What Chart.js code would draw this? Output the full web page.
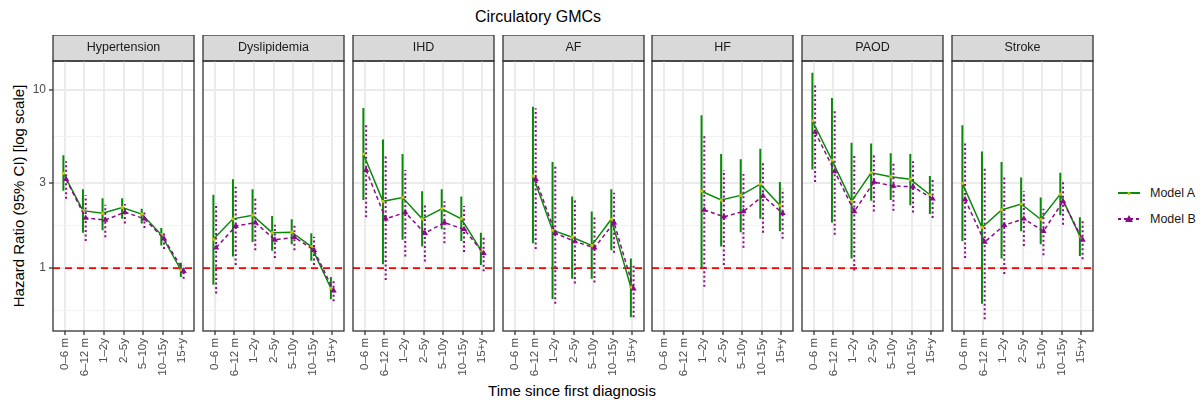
<!DOCTYPE html>
<html lang="en">
<head>
    <meta charset="UTF-8">
    <title>Circulatory GMCs</title>
    <script src="https://cdn.jsdelivr.net/npm/chart.js@4.4.1/dist/chart.umd.min.js"></script>
    <style>
        body { margin: 0; background: #fff; font-family: "Liberation Sans", Arial, sans-serif; }
        #wrap { position: relative; width: 1203px; height: 401px; overflow: hidden; }
        .panel { position: absolute; top: 35px; height: 350px; }
        .txt { position: absolute; color: #000; white-space: nowrap; }
        #title { left: 538px; top: 17px; font-size: 16px; transform: translate(-50%, -50%); }
        #ytitle { left: 18px; top: 196px; font-size: 15px; transform: translate(-50%, -50%) rotate(-90deg); }
        #xtitle { left: 572px; top: 390px; font-size: 15px; transform: translate(-50%, -50%); }
        .legend-item { position: absolute; left: 1117px; font-size: 12.5px; color: #1a1a1a; display: flex; align-items: center; }
        .legend-item svg { margin-right: 9px; }
    </style>
</head>
<body>
<div id="wrap">
    <div id="title" class="txt">Circulatory GMCs</div>
    <div id="ytitle" class="txt">Hazard Ratio (95% CI) [log scale]</div>
    <div id="xtitle" class="txt">Time since first diagnosis</div>
    <div class="legend-item" style="top:186px">
        <svg width="24" height="14"><line x1="1" y1="7" x2="23" y2="7" stroke="#0a8a0a" stroke-width="2"/><circle cx="12" cy="7.5" r="1.6" fill="#c8c800"/></svg>Model A
    </div>
    <div class="legend-item" style="top:212px">
        <svg width="24" height="14"><line x1="1" y1="7" x2="23" y2="7" stroke="#8a0a8a" stroke-width="2" stroke-dasharray="3 3"/><polygon points="12,3 16,10 8,10" fill="#8a0a8a"/></svg>Model B
    </div>
</div>

<script>
const categories = ['0–6 m', '6–12 m', '1–2y', '2–5y', '5–10y', '10–15y', '15+y'];
const panels = ['Hypertension', 'Dyslipidemia', 'IHD', 'AF', 'HF', 'PAOD', 'Stroke'];
const yMajor = [1, 3, 10];
const yMinor = [0.577, 1.732, 5.477];

// hazard ratios per panel (rows) and time band (columns)
const hrA = [
    [3.40, 2.10, 2.03, 2.19, 2.01, 1.54, 0.975],
    [1.45, 1.89, 1.98, 1.58, 1.59, 1.32, 0.77],
    [4.37, 2.37, 2.49, 1.89, 2.15, 1.89, 1.26],
    [null, 3.29, 1.63, 1.49, 1.34, 1.88, 0.78],
    [null, null, 2.70, 2.41, 2.56, 2.96, 2.25],
    [6.72, 4.04, 2.37, 3.43, 3.26, 3.15, 2.58],
    [2.99, 1.69, 2.12, 2.29, 1.88, 2.60, 1.51]
];
const loA = [
    [2.72, 1.58, 1.63, 1.89, 1.78, 1.34, 0.89],
    [0.805, 1.16, 1.40, 1.25, 1.36, 1.10, 0.667],
    [2.41, 1.05, 1.44, 1.32, 1.65, 1.42, 1.04],
    [null, 1.38, 0.67, 0.87, 0.87, 1.26, 0.53],
    [null, null, 1.00, 1.32, 1.59, 1.89, 1.61],
    [3.58, 1.80, 1.13, 2.39, 2.41, 2.25, 2.01],
    [1.42, 0.63, 1.13, 1.61, 1.36, 1.98, 1.17]
];
const hiA = [
    [4.30, 2.77, 2.47, 2.47, 2.15, 1.68, 1.07],
    [2.58, 3.15, 2.77, 1.96, 1.88, 1.57, 0.89],
    [7.92, 5.28, 4.37, 2.70, 2.77, 2.52, 1.58],
    [null, 8.06, 3.94, 2.52, 2.08, 2.77, 1.13],
    [null, null, 7.21, 4.37, 4.08, 4.68, 3.04],
    [12.5, 9.02, 5.06, 5.01, 4.41, 4.37, 3.29],
    [6.34, 4.52, 3.94, 3.23, 2.49, 3.43, 1.93]
];
const hrB = [
    [3.15, 1.91, 1.86, 2.06, 1.89, 1.46, 0.96],
    [1.30, 1.72, 1.80, 1.44, 1.49, 1.26, 0.746],
    [3.55, 1.89, 2.05, 1.57, 1.80, 1.65, 1.21],
    [null, 3.15, 1.57, 1.41, 1.30, 1.80, 0.765],
    [null, null, 2.12, 1.94, 2.08, 2.54, 2.03],
    [5.81, 3.49, 2.08, 3.04, 2.89, 2.86, 2.45],
    [2.43, 1.40, 1.74, 1.89, 1.61, 2.37, 1.44]
];
const loB = [
    [2.45, 1.42, 1.49, 1.78, 1.68, 1.28, 0.87],
    [0.72, 1.04, 1.26, 1.14, 1.26, 1.04, 0.65],
    [1.93, 0.857, 1.16, 1.09, 1.38, 1.23, 0.96],
    [null, 1.28, 0.63, 0.82, 0.83, 1.22, 0.53],
    [null, null, 0.785, 1.04, 1.30, 1.58, 1.46],
    [3.04, 1.54, 0.97, 2.08, 2.10, 2.05, 1.91],
    [1.14, 0.515, 0.925, 1.33, 1.18, 1.75, 1.12]
];
const hiB = [
    [3.98, 2.56, 2.27, 2.29, 2.05, 1.61, 1.04],
    [2.31, 2.86, 2.52, 1.75, 1.78, 1.50, 0.87],
    [6.44, 4.26, 3.55, 2.25, 2.37, 2.23, 1.50],
    [null, 7.89, 3.74, 2.41, 1.98, 2.65, 1.06],
    [null, null, 5.66, 3.55, 3.37, 4.01, 2.79],
    [10.9, 7.79, 4.37, 4.37, 3.91, 3.98, 3.12],
    [5.15, 3.71, 3.29, 2.70, 2.15, 3.07, 1.83]
];

const GREEN = '#0a8a0a';
const PURPLE = '#8a0a8a';
const panelLefts = [53, 203, 353, 503, 652, 802, 952];
const panelWidth = 141;
const yAxisWidth = 25;
const stripHeight = 26;

Chart.defaults.font.family = '"Liberation Sans", Arial, sans-serif';
Chart.defaults.animation = false;

// grey strip above each panel and the dark panel border
const panelFrame = {
    id: 'panelFrame',
    beforeDraw(chart) {
        const { ctx, chartArea: a } = chart;
        ctx.save();
        ctx.fillStyle = '#d9d9d9';
        ctx.fillRect(a.left, a.top - stripHeight, a.right - a.left, stripHeight);
        ctx.strokeStyle = '#333333';
        ctx.lineWidth = 1.3;
        ctx.strokeRect(a.left, a.top - stripHeight, a.right - a.left, stripHeight);
        ctx.restore();
    },
    afterDraw(chart) {
        const { ctx, chartArea: a } = chart;
        ctx.save();
        ctx.strokeStyle = '#333333';
        ctx.lineWidth = 1.3;
        ctx.strokeRect(a.left, a.top, a.right - a.left, a.bottom - a.top);
        ctx.restore();
    }
};

function ciPoints(lo, hi, dx) {
    const pts = [];
    lo.forEach((v, j) => {
        if (v === null) return;
        pts.push({ x: j + 1 + dx, y: v }, { x: j + 1 + dx, y: hi[j] }, { x: j + 1 + dx, y: null });
    });
    return pts;
}

function hrPoints(hr, dx) {
    return hr.map((v, j) => v === null ? null : { x: j + 1 + dx, y: v }).filter(p => p);
}

const isMajor = v => yMajor.some(m => Math.abs(m - v) < 1e-6);

document.addEventListener('DOMContentLoaded', function () {
    const wrap = document.getElementById('wrap');

    panels.forEach((name, i) => {
        const first = i === 0;
        const box = document.createElement('div');
        box.className = 'panel';
        const left = first ? panelLefts[i] - yAxisWidth : panelLefts[i] - 8;
        const width = first ? yAxisWidth + panelWidth + 8 : panelWidth + 16;
        box.style.left = left + 'px';
        box.style.width = width + 'px';
        const canvas = document.createElement('canvas');
        box.appendChild(canvas);
        wrap.appendChild(box);

        new Chart(canvas.getContext('2d'), {
            type: 'line',
            data: {
                datasets: [
                    {
                        label: 'ref',
                        data: [{ x: 0.4, y: 1 }, { x: 7.6, y: 1 }],
                        borderColor: '#ff0000',
                        borderWidth: 1.8,
                        borderDash: [7, 5],
                        pointRadius: 0,
                        order: 10
                    },
                    {
                        label: 'Model A CI',
                        data: ciPoints(loA[i], hiA[i], -0.07),
                        borderColor: GREEN,
                        borderWidth: 2,
                        pointRadius: 0,
                        spanGaps: false,
                        order: 9
                    },
                    {
                        label: 'Model B CI',
                        data: ciPoints(loB[i], hiB[i], 0.07),
                        borderColor: PURPLE,
                        borderWidth: 2,
                        borderDash: [2, 2.5],
                        pointRadius: 0,
                        spanGaps: false,
                        order: 8
                    },
                    {
                        label: 'Model A',
                        data: hrPoints(hrA[i], -0.07),
                        borderColor: GREEN,
                        borderWidth: 1.5,
                        pointRadius: 1.6,
                        pointBackgroundColor: '#c8c800',
                        pointBorderWidth: 0,
                        order: 7
                    },
                    {
                        label: 'Model B',
                        data: hrPoints(hrB[i], 0.07),
                        borderColor: PURPLE,
                        borderWidth: 1.5,
                        borderDash: [4, 3],
                        pointStyle: 'triangle',
                        pointRadius: 3.6,
                        pointBackgroundColor: PURPLE,
                        pointBorderColor: PURPLE,
                        pointBorderWidth: 0,
                        order: 6
                    }
                ]
            },
            options: {
                responsive: true,
                maintainAspectRatio: false,
                layout: { padding: { left: first ? 0 : 8, right: 8, top: 0, bottom: 0 } },
                plugins: {
                    legend: { display: false },
                    tooltip: { enabled: false },
                    title: {
                        display: true,
                        text: name,
                        fullSize: false,
                        color: '#1a1a1a',
                        font: { size: 12.5, weight: 'normal' },
                        padding: { top: 5.5, bottom: 5.5 }
                    }
                },
                scales: {
                    x: {
                        type: 'linear',
                        min: 0.4,
                        max: 7.6,
                        afterBuildTicks: s => { s.ticks = categories.map((c, j) => ({ value: j + 1 })); },
                        afterFit: s => { s.height = 54; },
                        border: { display: false },
                        grid: {
                            color: '#ebebeb',
                            lineWidth: 2,
                            drawTicks: true,
                            tickLength: 4,
                            tickColor: '#333333',
                            tickWidth: 1.3
                        },
                        ticks: {
                            autoSkip: false,
                            minRotation: 90,
                            maxRotation: 90,
                            padding: 3,
                            color: '#4d4d4d',
                            font: { size: 11.5 },
                            callback: v => categories[Math.round(v) - 1]
                        }
                    },
                    y: {
                        type: 'logarithmic',
                        min: 0.443,
                        max: 14.55,
                        afterBuildTicks: s => {
                            s.ticks = yMajor.concat(yMinor).sort((a, b) => a - b).map(v => ({ value: v }));
                        },
                        afterFit: s => { s.width = first ? yAxisWidth : 0; },
                        border: { display: false },
                        grid: {
                            color: ctx => isMajor(ctx.tick.value) ? '#ebebeb' : '#f2f2f2',
                            lineWidth: ctx => isMajor(ctx.tick.value) ? 2 : 1,
                            drawTicks: first,
                            tickLength: 4,
                            tickColor: ctx => isMajor(ctx.tick.value) ? '#333333' : 'rgba(0,0,0,0)',
                            tickWidth: 1.3
                        },
                        ticks: {
                            display: first,
                            padding: 3,
                            color: '#4d4d4d',
                            font: { size: 12 },
                            callback: v => isMajor(v) ? String(v) : ''
                        }
                    }
                }
            },
            plugins: [panelFrame]
        });
    });
});
</script>
</body>
</html>
